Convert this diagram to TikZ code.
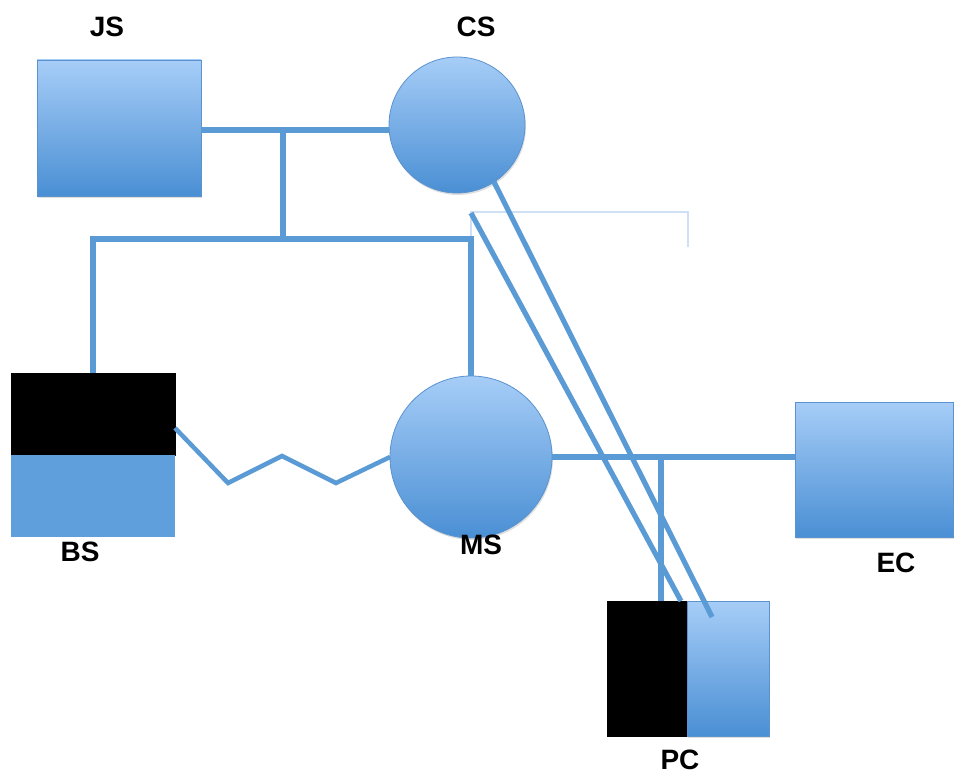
\documentclass[tikz,border=0pt]{standalone}
\usepackage{fontspec}
\setmainfont{Liberation Sans}
\usetikzlibrary{shadows}
\definecolor{linec}{HTML}{5B9BD5}
\definecolor{edgec}{HTML}{5A93CE}
\definecolor{topc}{HTML}{A6CDF7}
\definecolor{botc}{HTML}{4A8FD4}
\definecolor{flatc}{HTML}{5FA0DC}
\definecolor{thinc}{HTML}{CFE0F4}
\begin{document}
\begin{tikzpicture}[x=1pt,y=-1pt,
  conn/.style={draw=linec, line width=5.2pt, line join=miter},
  shad/.style={drop shadow={opacity=0.25, shadow xshift=1pt, shadow yshift=-2pt}},
  gradbox/.style={rectangle, draw=edgec, line width=0.8pt, top color=topc, bottom color=botc, inner sep=0pt, outer sep=0pt, shad},
  gradcirc/.style={circle, draw=edgec, line width=0.8pt, top color=topc, bottom color=botc, inner sep=0pt, outer sep=0pt, shad},
  blackbox/.style={rectangle, draw=black, fill=black, line width=0.8pt, inner sep=0pt, outer sep=0pt},
  flatbox/.style={rectangle, fill=flatc, inner sep=0pt, outer sep=0pt},
  lbl/.style={font=\fontsize{28}{32}\selectfont\bfseries, text=black, inner sep=0pt}
]
\useasboundingbox (0,0) rectangle (954,778);
% shapes
\node[gradbox, minimum width=164pt, minimum height=136pt] (js) at (119,128) {};
\node[gradcirc, minimum size=136pt] (cs) at (457,125) {};
\node[blackbox, minimum width=164pt, minimum height=82pt] (bsT) at (93,414) {};
\node[flatbox, minimum width=164pt, minimum height=82pt] (bsB) at (93,496) {};
\node[gradcirc, minimum size=162pt] (ms) at (471,457) {};
\node[gradbox, minimum width=158pt, minimum height=135pt] (ec) at (874,469.5) {};
\node[blackbox, minimum width=80pt, minimum height=135pt] (pcL) at (647,668.5) {};
\node[gradbox, minimum width=82pt, minimum height=135pt] (pcR) at (728,668.5) {};
% labels
\node[lbl] (tjs) at (107,27) {JS};
\node[lbl] (tcs) at (476,27) {CS};
\node[lbl] (tbs) at (80,552) {BS};
\node[lbl] (tms) at (481,545) {MS};
\node[lbl] (tec) at (896,563) {EC};
\node[lbl] (tpc) at (680,760) {PC};
% coordinates
\coordinate (j1) at (283,130);
\coordinate (j2) at (283,239);
\coordinate (hl) at (93,239);
\coordinate (hr) at (471,239);
\coordinate (z1) at (228,483);
\coordinate (z2) at (282,456);
\coordinate (z3) at (336,483);
\coordinate (j3) at (661,457);
\coordinate (pcin) at (712,617);
\coordinate (d2) at (471,213);
\coordinate (pctop) at (681,601);
\coordinate (t1) at (471,240);
\coordinate (t2) at (471,212);
\coordinate (t3) at (688,212);
\coordinate (t4) at (688,247);
% thin light line
\draw[thinc, line width=1.2pt] (t1) -- (t2) -- (t3) -- (t4);
% connectors
\draw[conn] (js.east |- j1) -- (cs.west |- j1);
\draw[conn] (j1) -- (j2);
\draw[conn] (bsT.north) -- (hl) -- (hr) -- (ms.north);
\draw[conn, line width=4.5pt] ([yshift=-14pt]bsT.east) -- (z1) -- (z2) -- (z3) -- (ms.west);
\draw[conn] (ms.east) -- (ms.east -| ec.west);
\draw[conn] (j3) -- (pcL.north -| j3);
\draw[conn] (cs.-57) -- (pcin);
\draw[conn] (d2) -- (pctop);
\end{tikzpicture}
\end{document}
